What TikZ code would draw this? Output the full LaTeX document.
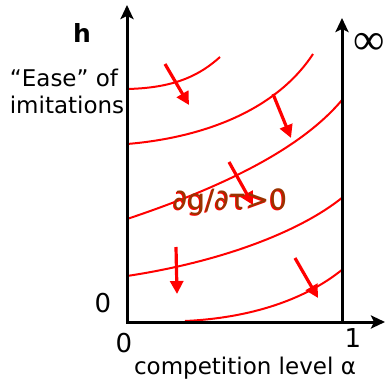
\documentclass[tikz,border=0pt]{standalone}
\usepackage{fontspec}
\setmainfont{DejaVu Sans}
\newfontfamily\symserif{Liberation Serif}
\usetikzlibrary{arrows.meta}
\definecolor{tbrown}{RGB}{153,51,0}
\begin{document}
\begin{tikzpicture}[x = 1pt, y = -1pt,
		axis/.style = {line width = 3pt, {Stealth[length = 14pt, width = 13pt, inset = 3pt]}-{Stealth[length = 14pt, width = 13pt, inset = 3pt]}},
		level/.style = {red, line width = 2pt},
		drift/.style = {red, line width = 3.2pt, -{Triangle[length = 13pt, width = 13pt]}},
		lbl/.style = {font = \fontsize{23}{26}\selectfont, inner sep = 0pt}]
	\useasboundingbox (0, 0) rectangle (385, 385);
	\coordinate (O) at (127, 322); \coordinate (H) at (127, 5); \coordinate (A) at (385, 322);
	\coordinate (U) at (342, 322); \coordinate (Ut) at (342, 18);
	% iso-lines
	\draw[level] (127, 89) .. controls (175, 88) and (200, 75) .. (220, 57);
	\draw[level] (127, 144) .. controls (200, 138) and (275, 112) .. (313, 54);
	\draw[level] (127, 219) .. controls (220, 188) and (300, 150) .. (342, 100);
	\draw[level] (127, 276) .. controls (220, 262) and (300, 232) .. (343, 197);
	\draw[level] (185, 321) .. controls (250, 318) and (305, 300) .. (343, 269);
	% axes
	\draw[axis] (H)--(O)--(A);
	\draw[axis, {Stealth[length = 14pt, width = 13pt, inset = 3pt]}-] (Ut)--(U);
	% drift
	\foreach \i/\a/\b/\c/\d in {1/165/64/189/105, 2/273/94/291/138, 3/229/162/253/205, 4/176/247/177/294, 5/295/258/318/298}{
		\coordinate (s\i) at (\a, \b); \coordinate (e\i) at (\c, \d);
		\draw[drift] (s\i)--(e\i);
	}
	\node[red, font = \fontsize{28}{30}\selectfont] (sh) at (229, 203) {∂g/∂τ>0};
	\node[tbrown, font = \fontsize{28}{30}\selectfont] (rate) at (230, 202) {∂g/∂τ>0};
	% labels
	\node[lbl, font = \fontsize{25}{26}\selectfont\bfseries] (h) at (82, 33) {h};
	\node[lbl] (ease) at (64, 78) {“Ease” of};
	\node[lbl] (imit) at (67, 105) {imitations};
	\node[lbl, font = \symserif\fontsize{44}{46}\selectfont] (inf) at (369, 44) {∞};
	\node[lbl, font = \fontsize{26}{28}\selectfont] (zh) at (103, 303) {0};
	\node[lbl, font = \fontsize{26}{28}\selectfont] (za) at (124, 343) {0};
	\node[lbl, font = \fontsize{26}{28}\selectfont] (one) at (353, 338) {1};
	\node[lbl] (comp) at (245, 368) {competition level α};
\end{tikzpicture}
\end{document}
